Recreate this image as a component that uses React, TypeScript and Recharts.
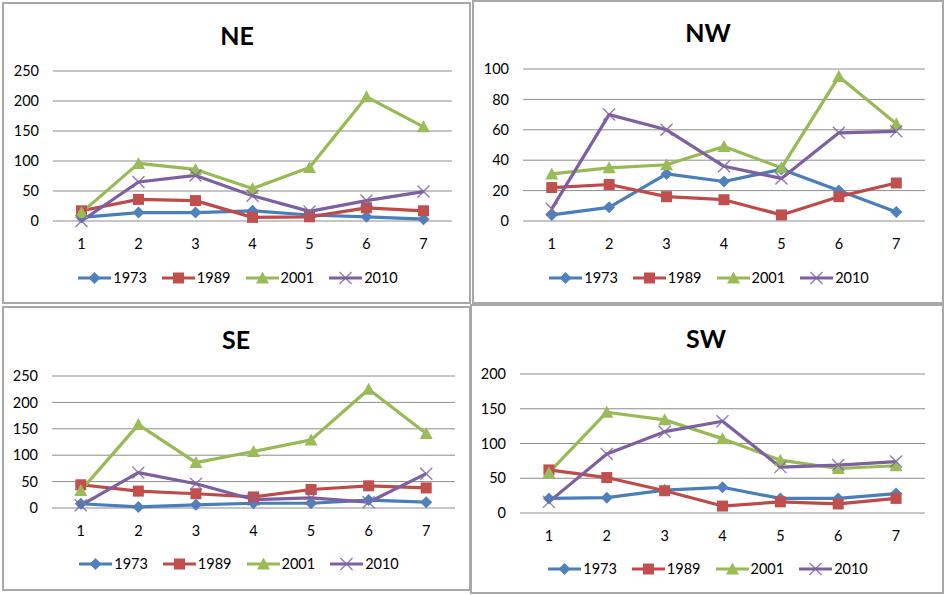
import React from "react";
import { LineChart, Line, XAxis, YAxis, CartesianGrid } from "recharts";

const categories = [1, 2, 3, 4, 5, 6, 7];
const years = ["1973", "1989", "2001", "2010"];

const ne1973 = [6, 14, 14, 17, 10, 7, 3];
const ne1989 = [17, 36, 34, 6, 7, 22, 17];
const ne2001 = [14, 96, 86, 54, 89, 207, 157];
const ne2010 = [0, 65, 76, 42, 16, 34, 49];

const nw1973 = [4, 9, 31, 26, 34, 20, 6];
const nw1989 = [22, 24, 16, 14, 4, 16, 25];
const nw2001 = [31, 35, 37, 49, 35, 95, 64];
const nw2010 = [8, 70, 60, 36, 28, 58, 59];

const se1973 = [8, 2, 6, 9, 9, 15, 11];
const se1989 = [44, 32, 27, 21, 35, 42, 38];
const se2001 = [33, 158, 86, 107, 129, 225, 141];
const se2010 = [5, 67, 46, 16, 19, 11, 65];

const sw1973 = [21, 22, 33, 37, 21, 21, 28];
const sw1989 = [62, 51, 32, 10, 16, 13, 21];
const sw2001 = [58, 145, 134, 107, 76, 64, 68];
const sw2010 = [16, 85, 117, 132, 66, 69, 74];

const neTicks = [0, 50, 100, 150, 200, 250];
const nwTicks = [0, 20, 40, 60, 80, 100];
const seTicks = [0, 50, 100, 150, 200, 250];
const swTicks = [0, 50, 100, 150, 200];

const FONT = "Lato, 'Open Sans', sans-serif";

const styles = [
  { line: "#4A7EBB", mark: "#4F81BD", shape: "diamond" },
  { line: "#BE4B48", mark: "#C0504D", shape: "square" },
  { line: "#98B954", mark: "#9BBB59", shape: "triangle" },
  { line: "#7D60A0", mark: "#8064A2", shape: "x" },
];

function Marker({ shape, cx, cy, color }: { shape: string; cx: number; cy: number; color: string }) {
  if (shape === "diamond")
    return <path d={`M${cx},${cy - 6}L${cx + 6},${cy}L${cx},${cy + 6}L${cx - 6},${cy}Z`} fill={color} />;
  if (shape === "square") return <rect x={cx - 5.5} y={cy - 5.5} width={11} height={11} fill={color} />;
  if (shape === "triangle")
    return <path d={`M${cx},${cy - 6.5}L${cx + 6.5},${cy + 5.5}L${cx - 6.5},${cy + 5.5}Z`} fill={color} />;
  return (
    <g stroke={color} strokeWidth={1.4} opacity={0.85}>
      <line x1={cx - 6} y1={cy - 6} x2={cx + 6} y2={cy + 6} />
      <line x1={cx - 6} y1={cy + 6} x2={cx + 6} y2={cy - 6} />
    </g>
  );
}

function buildRows(series: number[][]) {
  return categories.map((c, i) => {
    const row: Record<string, number> = { x: c };
    years.forEach((y, k) => (row[y] = series[k][i]));
    return row;
  });
}

function Legend({ top, cx }: { top: number; cx: number }) {
  return (
    <div
      style={{
        position: "absolute",
        top: top - 9,
        left: cx - 170,
        width: 340,
        display: "flex",
        justifyContent: "center",
        alignItems: "center",
        fontFamily: FONT,
        fontSize: 14.5,
        color: "#000",
        lineHeight: "18px",
      }}
    >
      {years.map((y, k) => (
        <div key={y} style={{ display: "flex", alignItems: "center", marginRight: k < 3 ? 15 : 0 }}>
          <svg width={33} height={14}>
            <line x1={0} y1={7} x2={33} y2={7} stroke={styles[k].line} strokeWidth={3} />
            <Marker shape={styles[k].shape} cx={16.5} cy={7} color={styles[k].mark} />
          </svg>
          <span style={{ marginLeft: 2 }}>{y}</span>
        </div>
      ))}
    </div>
  );
}

type PanelProps = {
  title: string;
  left: number;
  top: number;
  width: number;
  height: number;
  series: number[][];
  ticks: number[];
  margin: { top: number; right: number; bottom: number };
  yWidth: number;
  titleY: number;
  titleX: number;
  legendY: number;
  legendX: number;
};

function Panel(p: PanelProps) {
  const data = buildRows(p.series);
  const max = p.ticks[p.ticks.length - 1];
  return (
    <div
      style={{
        position: "absolute",
        left: p.left,
        top: p.top,
        width: p.width,
        height: p.height,
        boxSizing: "border-box",
        border: "2px solid #a8a8a8",
        background: "#fff",
      }}
    >
      <div style={{ position: "absolute", left: -2, top: -2, width: p.width, height: p.height }}>
        <div
          style={{
            position: "absolute",
            top: p.titleY - 15,
            left: p.titleX - 100,
            width: 200,
            textAlign: "center",
            fontFamily: FONT,
            fontWeight: 700,
            fontSize: 25,
            lineHeight: "30px",
            color: "#000",
          }}
        >
          {p.title}
        </div>
        <LineChart
          width={p.width}
          height={p.height}
          data={data}
          margin={{ top: p.margin.top, right: p.margin.right, bottom: p.margin.bottom, left: 0 }}
        >
          <CartesianGrid vertical={false} stroke="#8c8c8c" strokeWidth={1} />
          <XAxis
            dataKey="x"
            type="number"
            domain={[0.5, 7.5]}
            ticks={categories}
            axisLine={false}
            tickLine={false}
            tickMargin={12}
            height={30}
            tick={{ fill: "#000", fontSize: 14.5, fontFamily: FONT }}
          />
          <YAxis
            domain={[0, max]}
            ticks={p.ticks}
            axisLine={false}
            tickLine={false}
            tickMargin={8}
            width={p.yWidth}
            tick={{ fill: "#000", fontSize: 14.5, fontFamily: FONT }}
          />
          {years.map((y, k) => (
            <Line
              key={y}
              dataKey={y}
              type="linear"
              stroke={styles[k].line}
              strokeWidth={3.2}
              strokeLinejoin="round"
              isAnimationActive={false}
              activeDot={false}
              dot={(d: any) => (
                <Marker key={`${y}-${d.index}`} shape={styles[k].shape} cx={d.cx} cy={d.cy} color={styles[k].mark} />
              )}
            />
          ))}
        </LineChart>
        <Legend top={p.legendY} cx={p.legendX} />
      </div>
    </div>
  );
}

export default function App() {
  return (
    <div style={{ position: "absolute", left: 0, top: 0, width: 944, height: 595, background: "#fff" }}>
      <Panel
        title="NE"
        left={2}
        top={2}
        width={469}
        height={302}
        series={[ne1973, ne1989, ne2001, ne2010]}
        ticks={neTicks}
        margin={{ top: 69, right: 19, bottom: 53 }}
        yWidth={51}
        titleY={33}
        titleX={235}
        legendY={276}
        legendX={236}
      />
      <Panel
        title="NW"
        left={472}
        top={0}
        width={472}
        height={304}
        series={[nw1973, nw1989, nw2001, nw2010]}
        ticks={nwTicks}
        margin={{ top: 69, right: 19, bottom: 53 }}
        yWidth={51}
        titleY={32}
        titleX={236}
        legendY={278}
        legendX={237}
      />
      <Panel
        title="SE"
        left={2}
        top={306}
        width={469}
        height={285}
        series={[se1973, se1989, se2001, se2010]}
        ticks={seTicks}
        margin={{ top: 70, right: 16, bottom: 53 }}
        yWidth={50}
        titleY={33}
        titleX={234}
        legendY={258}
        legendX={237}
      />
      <Panel
        title="SW"
        left={470}
        top={304}
        width={474}
        height={290}
        series={[sw1973, sw1989, sw2001, sw2010]}
        ticks={swTicks}
        margin={{ top: 70, right: 19, bottom: 51 }}
        yWidth={50}
        titleY={34}
        titleX={236}
        legendY={265}
        legendX={238}
      />
    </div>
  );
}
